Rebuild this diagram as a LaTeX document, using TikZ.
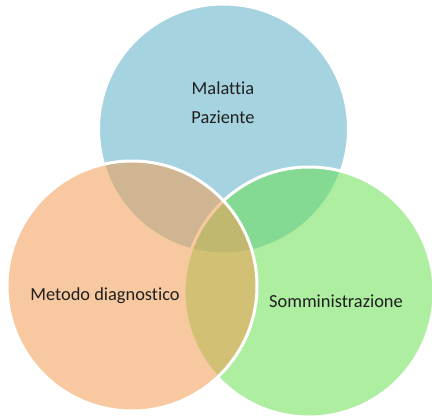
\documentclass[tikz,border=0pt]{standalone}
\usepackage{fontspec}
\setmainfont{Carlito}[Ligatures={NoCommon}]
\usetikzlibrary{positioning}

\definecolor{vennblue}{RGB}{93,175,199}
\definecolor{venngreen}{RGB}{106,224,82}
\definecolor{vennorange}{RGB}{242,157,82}

\begin{document}
\begin{tikzpicture}[
      x=1pt, y=-1pt,
      set/.style={circle, draw=white, line width=3pt, minimum size=250pt,
                  inner sep=0pt, fill opacity=0.55},
      lbl/.style={font=\fontsize{18.4}{29}\selectfont, text=black!88, align=center},
    ]
    \useasboundingbox (0,0) rectangle (432,418);
    % the three sets, drawn back to front
    \node[set, fill=vennblue] (malattia) at (223.5,129) {};
    \node[set, fill=venngreen] (somm) at (309,292) {};
    \node[set, fill=vennorange] (metodo) at (132,286) {};
    % labels
    \node[lbl] (lmalattia) at (223,103) {Malattia\\Paziente};
    \node[lbl] (lmetodo) at (105,296) {Metodo diagnostico};
    \node[lbl] (lsomm) at (336,301) {Somministrazione};
  \end{tikzpicture}
\end{document}
